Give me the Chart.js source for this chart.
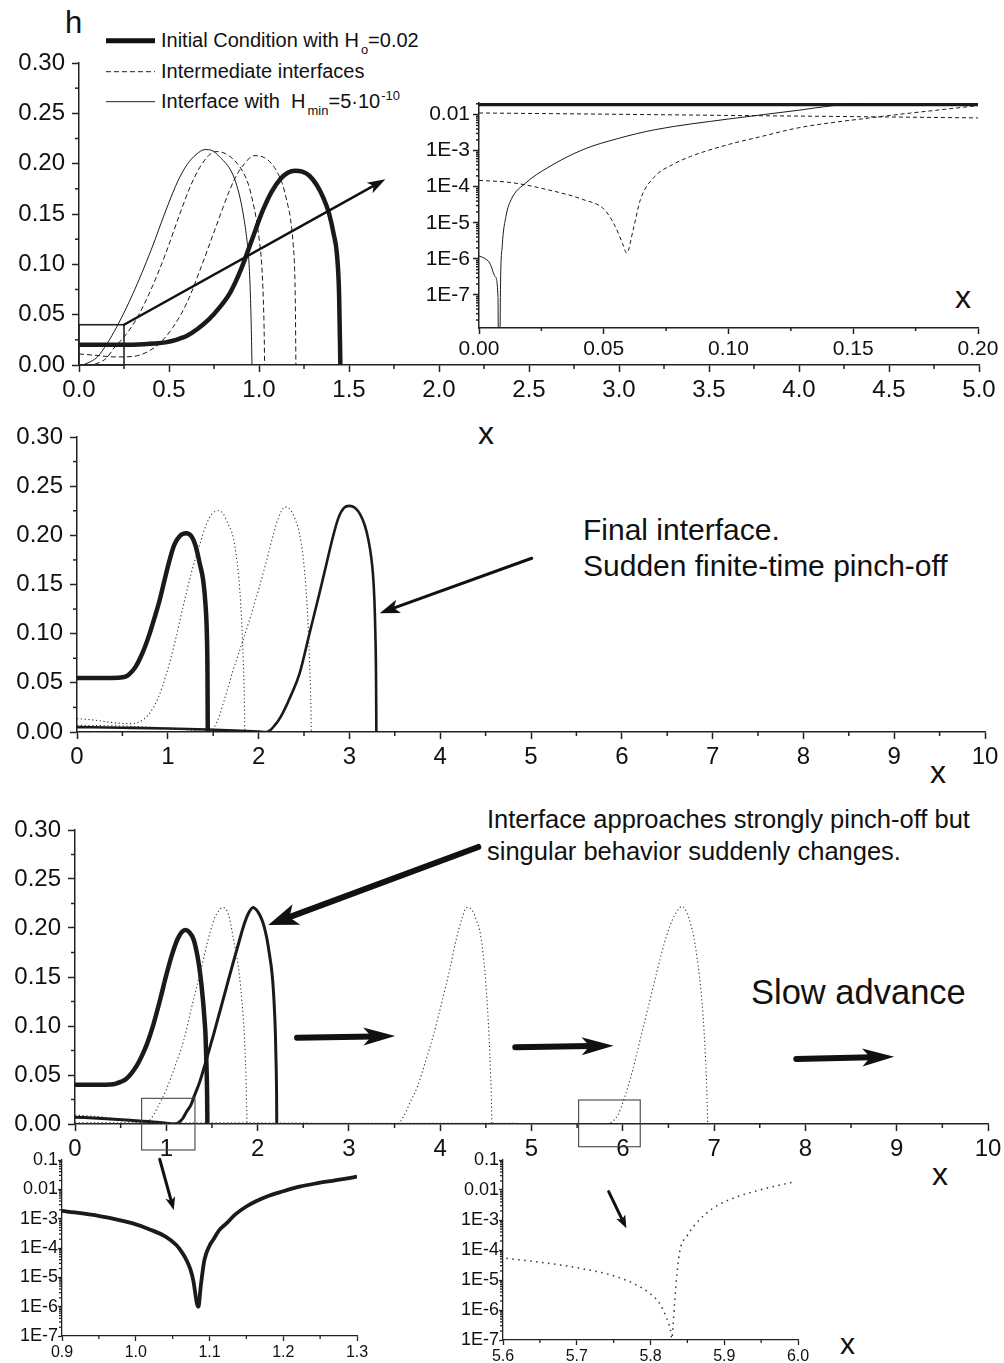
<!DOCTYPE html>
<html>
<head>
<meta charset="utf-8">
<script src="https://cdn.jsdelivr.net/npm/chart.js@4.4.1/dist/chart.umd.min.js"></script>
<style>
  html, body { margin: 0; padding: 0; background: #fff; overflow: hidden; }
  body { width: 1004px; height: 1363px; position: relative;
         font-family: 'Liberation Sans', Arial, Helvetica, sans-serif; color: #111; }
  canvas { position: absolute; }
  .t { position: absolute; white-space: nowrap; line-height: 1; }
  .sub { font-size: 13px; position: relative; top: 7px; margin-left: 2px; }
  .sup { font-size: 13px; position: relative; top: -8px; margin-left: 1px; }
</style>
</head>
<body>

<!-- legend of the top panel -->
<svg style="position:absolute;left:104px;top:30px" width="54" height="80">
  <line x1="2" y1="10.7" x2="51" y2="10.7" stroke="#111" stroke-width="5"/>
  <line x1="2" y1="41.7" x2="51" y2="41.7" stroke="#222" stroke-width="1" stroke-dasharray="5 3"/>
  <line x1="2" y1="71.7" x2="51" y2="71.7" stroke="#222" stroke-width="1"/>
</svg>
<div class="t" style="left:161px;top:30px;font-size:20px">Initial Condition with H<span class="sub">o</span>=0.02</div>
<div class="t" style="left:161px;top:61px;font-size:20px">Intermediate interfaces</div>
<div class="t" style="left:161px;top:91px;font-size:20px">Interface with&nbsp; H<span class="sub">min</span>=5·10<span class="sup">-10</span></div>

<div class="t" style="left:65px;top:7px;font-size:31px">h</div>
<div class="t" style="left:478px;top:417px;font-size:32px">x</div>
<div class="t" style="left:955px;top:281px;font-size:32px">x</div>
<div class="t" style="left:930px;top:756px;font-size:32px">x</div>
<div class="t" style="left:932px;top:1158px;font-size:32px">x</div>
<div class="t" style="left:840px;top:1329px;font-size:30px">x</div>

<div class="t" style="left:583px;top:515px;font-size:30px">Final interface.</div>
<div class="t" style="left:583px;top:551px;font-size:30px">Sudden finite-time pinch-off</div>
<div class="t" style="left:487px;top:807px;font-size:25.5px">Interface approaches strongly pinch-off but</div>
<div class="t" style="left:487px;top:839px;font-size:25.5px">singular behavior suddenly changes.</div>
<div class="t" style="left:751px;top:975px;font-size:34.5px">Slow advance</div>

<script>
// ---------- top panel, 0 <= x <= 5 ----------
const topInitialX = [0, 0.2, 0.3, 0.36, 0.42, 0.48, 0.54, 0.6, 0.66, 0.72, 0.78, 0.84, 0.9, 0.96, 1.02, 1.07, 1.12, 1.16, 1.2, 1.24, 1.28, 1.32, 1.36, 1.39, 1.415, 1.433, 1.445, 1.452];
const topInitialH = [0.02, 0.02, 0.0202, 0.0206, 0.0213, 0.0225, 0.025, 0.029, 0.036, 0.045, 0.057, 0.072, 0.095, 0.124, 0.153, 0.172, 0.185, 0.191, 0.193, 0.192, 0.188, 0.179, 0.165, 0.15, 0.13, 0.11, 0.07, 0];

const topFilmX = [0, 0.1, 0.2, 0.3, 0.38, 0.45, 0.52, 0.6, 0.68, 0.76, 0.84, 0.88, 0.92, 0.97, 1.03, 1.07, 1.1, 1.13, 1.156, 1.175, 1.19, 1.198, 1.202, 1.205];
const topFilmH = [0.011, 0.0095, 0.008, 0.0085, 0.013, 0.022, 0.037, 0.062, 0.098, 0.137, 0.175, 0.19, 0.2, 0.208, 0.206, 0.2, 0.192, 0.18, 0.162, 0.145, 0.12, 0.095, 0.06, 0];

const topDipX = [0, 0.03, 0.06, 0.1, 0.15, 0.2, 0.26, 0.32, 0.4, 0.48, 0.56, 0.62, 0.67, 0.72, 0.76, 0.8, 0.84, 0.88, 0.91, 0.94, 0.966, 0.985, 1.003, 1.015, 1.024, 1.029, 1.031];
const topDipH = [1.5e-4, 8e-5, 1.5e-6, 1.5e-3, 0.0065, 0.018, 0.03, 0.046, 0.075, 0.11, 0.15, 0.178, 0.196, 0.208, 0.212, 0.211, 0.207, 0.2, 0.192, 0.18, 0.162, 0.145, 0.122, 0.1, 0.065, 0.03, 0];

const topMinX = [0, 0.008, 0.02, 0.05, 0.1, 0.155, 0.21, 0.3, 0.4, 0.49, 0.55, 0.6, 0.65, 0.70, 0.74, 0.78, 0.841, 0.87, 0.896, 0.915, 0.933, 0.945, 0.953, 0.958, 0.961];
const topMinH = [1e-6, 0, 1.5e-4, 2.2e-3, 0.0076, 0.021, 0.038, 0.071, 0.114, 0.157, 0.183, 0.199, 0.209, 0.214, 0.213, 0.207, 0.194, 0.182, 0.165, 0.147, 0.124, 0.1, 0.065, 0.03, 0];

// ---------- log inset of the top panel, 0 <= x <= 0.2 ----------
const insetInitialX = [0, 0.2];
const insetInitialH = [0.02, 0.02];
const insetFilmX = [0, 0.05, 0.1, 0.15, 0.2];
const insetFilmH = [0.0111, 0.0103, 0.0095, 0.0088, 0.0081];
const insetDipX = [0, 0.0129, 0.0273, 0.0417, 0.0503, 0.0546, 0.0575, 0.0592, 0.0618, 0.0647, 0.0704, 0.0776, 0.0848, 0.1003, 0.1135, 0.128, 0.1566, 0.2];
const insetDipH = [1.5e-4, 1.3e-4, 8.3e-5, 4.4e-5, 2.3e-5, 7.9e-6, 2.7e-6, 1.45e-6, 6.4e-6, 4.4e-5, 1.9e-4, 4.1e-4, 6.9e-4, 1.5e-3, 2.5e-3, 4.3e-3, 8.1e-3, 0.0178];
const insetMinX = [0, 0.002, 0.0043, 0.0065, 0.0076, 0.008, 0.0086, 0.0093, 0.0108, 0.0129, 0.0187, 0.0273, 0.0417, 0.056, 0.0704, 0.1003, 0.128, 0.142, 0.2];
const insetMinH = [1.2e-6, 1.05e-6, 7.6e-7, 3.2e-7, 9e-8, 1e-12, 1.4e-7, 2.2e-6, 1.5e-5, 4.4e-5, 1.26e-4, 3.3e-4, 1.07e-3, 2.2e-3, 3.8e-3, 7.6e-3, 0.0132, 0.0178, 0.035];

// ---------- middle panel, 0 <= x <= 10 ----------
const midInitialX = [0, 0.3, 0.45, 0.5, 0.55, 0.6, 0.65, 0.7, 0.75, 0.8, 0.86, 0.91, 0.96, 1.02, 1.07, 1.13, 1.2, 1.26, 1.31, 1.35, 1.39, 1.415, 1.43, 1.437, 1.44];
const midInitialH = [0.055, 0.055, 0.0552, 0.0556, 0.057, 0.061, 0.067, 0.076, 0.087, 0.1, 0.118, 0.134, 0.153, 0.175, 0.19, 0.199, 0.202, 0.199, 0.188, 0.172, 0.154, 0.13, 0.1, 0.06, 0];
const midDot1X = [0, 0.2, 0.4, 0.6, 0.7, 0.8, 0.9, 0.985, 1.08, 1.17, 1.26, 1.35, 1.42, 1.48, 1.55, 1.61, 1.66, 1.72, 1.76, 1.79, 1.815, 1.832, 1.843, 1.848];
const midDot1H = [0.0136, 0.012, 0.0095, 0.0085, 0.011, 0.019, 0.036, 0.059, 0.092, 0.128, 0.162, 0.19, 0.21, 0.221, 0.225, 0.222, 0.212, 0.198, 0.175, 0.148, 0.11, 0.07, 0.035, 0];
const midDot2X = [0, 0.5, 1.0, 1.3, 1.46, 1.55, 1.63, 1.72, 1.81, 1.9, 2.0, 2.09, 2.16, 2.22, 2.29, 2.35, 2.4, 2.45, 2.49, 2.52, 2.545, 2.562, 2.574, 2.58];
const midDot2H = [0.0068, 0.006, 0.004, 0.0015, 0, 0.012, 0.035, 0.063, 0.088, 0.114, 0.145, 0.175, 0.2, 0.218, 0.229, 0.226, 0.217, 0.202, 0.178, 0.148, 0.11, 0.07, 0.035, 0];
const midFinalX = [0, 0.5, 1.0, 1.44, 1.8, 2.0, 2.086, 2.13, 2.17, 2.22, 2.27, 2.36, 2.45, 2.56, 2.67, 2.75, 2.82, 2.88, 2.94, 3.0, 3.06, 3.12, 3.17, 3.21, 3.24, 3.26, 3.275, 3.286, 3.293, 3.297];
const midFinalH = [0.005, 0.0043, 0.0035, 0.0025, 0.0012, 0.0004, 0, 0.002, 0.006, 0.012, 0.02, 0.038, 0.059, 0.1, 0.141, 0.172, 0.199, 0.218, 0.228, 0.23, 0.228, 0.221, 0.21, 0.195, 0.178, 0.16, 0.135, 0.1, 0.06, 0];

// ---------- bottom panel, 0 <= x <= 10 ----------
const botInitialX = [0, 0.3, 0.38, 0.44, 0.5, 0.56, 0.62, 0.68, 0.74, 0.79, 0.86, 0.93, 1.0, 1.06, 1.12, 1.17, 1.21, 1.25, 1.3, 1.34, 1.37, 1.4, 1.42, 1.43, 1.44, 1.447, 1.45];
const botInitialH = [0.04, 0.04, 0.0403, 0.041, 0.043, 0.046, 0.052, 0.06, 0.071, 0.082, 0.102, 0.126, 0.152, 0.172, 0.188, 0.196, 0.198, 0.196, 0.188, 0.172, 0.154, 0.128, 0.105, 0.09, 0.06, 0.03, 0];
const botApproachX = [0, 0.3, 0.6, 0.9, 1.0, 1.05, 1.085, 1.1, 1.12, 1.15, 1.18, 1.22, 1.27, 1.3, 1.37, 1.44, 1.52, 1.59, 1.66, 1.73, 1.8, 1.85, 1.9, 1.95, 2.0, 2.04, 2.07, 2.1, 2.13, 2.16, 2.18, 2.195, 2.203, 2.208, 2.21];
const botApproachH = [0.007, 0.0055, 0.0038, 0.0018, 0.0007, 0.00025, 0, 0.0002, 0.0007, 0.0026, 0.0056, 0.0123, 0.0196, 0.027, 0.044, 0.066, 0.092, 0.116, 0.14, 0.164, 0.187, 0.203, 0.215, 0.221, 0.217, 0.21, 0.202, 0.19, 0.173, 0.152, 0.125, 0.092, 0.06, 0.03, 0];
const botDot1X = [0, 0.2, 0.4, 0.6, 0.75, 0.82, 0.9, 1.0, 1.1, 1.19, 1.28, 1.37, 1.45, 1.52, 1.57, 1.62, 1.68, 1.737, 1.79, 1.828, 1.855, 1.872, 1.884];
const botDot1H = [0.009, 0.008, 0.006, 0.003, 0.001, 0.004, 0.016, 0.035, 0.06, 0.085, 0.12, 0.154, 0.185, 0.208, 0.217, 0.221, 0.214, 0.188, 0.16, 0.126, 0.09, 0.05, 0];
const botDot2X = [0, 1, 2, 3, 3.53, 3.6, 3.67, 3.75, 3.84, 3.93, 4.02, 4.11, 4.18, 4.24, 4.29, 4.35, 4.4, 4.44, 4.48, 4.51, 4.535, 4.552, 4.562, 4.565];
const botDot2H = [0.0009, 0.0008, 0.0006, 0.0004, 0, 0.008, 0.022, 0.038, 0.064, 0.092, 0.125, 0.16, 0.19, 0.21, 0.221, 0.218, 0.207, 0.194, 0.165, 0.13, 0.09, 0.05, 0.02, 0];
const botDot3X = [0, 1, 2, 3, 4, 5.06, 5.6, 5.7, 5.8, 5.83, 5.885, 5.95, 6.01, 6.1, 6.19, 6.28, 6.37, 6.45, 6.52, 6.58, 6.65, 6.7, 6.74, 6.775, 6.81, 6.84, 6.868, 6.89, 6.907, 6.92, 6.93];
const botDot3H = [0.001, 0.001, 0.0009, 0.0008, 0.0007, 0.0005, 5e-5, 2.6e-5, 3e-6, 1e-7, 2.5e-3, 0.01, 0.0245, 0.052, 0.086, 0.12, 0.154, 0.183, 0.203, 0.215, 0.222, 0.216, 0.205, 0.192, 0.172, 0.15, 0.124, 0.095, 0.065, 0.035, 0];

// ---------- log close-ups under the bottom panel ----------
const zoomAX = [0.9, 0.951, 0.996, 1.019, 1.041, 1.055, 1.062, 1.069, 1.074, 1.078, 1.083, 1.085, 1.088, 1.093, 1.1, 1.105, 1.113, 1.123, 1.135, 1.15, 1.163, 1.177, 1.2, 1.222, 1.245, 1.267, 1.285, 1.3];
const zoomAH = [1.86e-3, 1.23e-3, 6.9e-4, 4.3e-4, 2.4e-4, 1.26e-4, 7.5e-5, 3.8e-5, 1.9e-5, 7.9e-6, 1.26e-6, 1.0e-6, 4.7e-6, 3.8e-5, 1.2e-4, 1.9e-4, 4e-4, 6.9e-4, 1.4e-3, 2.6e-3, 3.9e-3, 5.6e-3, 8.6e-3, 0.0123, 0.016, 0.0196, 0.023, 0.027];
const zoomBX = [5.6045, 5.654, 5.699, 5.745, 5.776, 5.799, 5.812, 5.821, 5.827, 5.829, 5.8305, 5.833, 5.836, 5.84, 5.849, 5.862, 5.885, 5.912, 5.948, 5.996];
const zoomBH = [5.3e-5, 3.8e-5, 2.6e-5, 1.5e-5, 7.8e-6, 3.6e-6, 1.7e-6, 6e-7, 2.2e-7, 1.1e-7, 2.8e-7, 2.2e-6, 1.7e-5, 1e-4, 2.8e-4, 7.8e-4, 2.5e-3, 5.3e-3, 0.01, 0.019];

// ---------- tick values ----------
const hTicks = [0, 0.05, 0.10, 0.15, 0.20, 0.25, 0.30];
const topXTicks = [0, 0.5, 1.0, 1.5, 2.0, 2.5, 3.0, 3.5, 4.0, 4.5, 5.0];
const wideXTicks = [0, 1, 2, 3, 4, 5, 6, 7, 8, 9, 10];
const insetXTicks = [0, 0.05, 0.10, 0.15, 0.20];
const insetLogTicks = [1e-7, 1e-6, 1e-5, 1e-4, 1e-3, 1e-2];
const zoomLogTicks = [1e-7, 1e-6, 1e-5, 1e-4, 1e-3, 1e-2, 1e-1];
const zoomAXTicks = [0.9, 1.0, 1.1, 1.2, 1.3];
const zoomBXTicks = [5.6, 5.7, 5.8, 5.9, 6.0];

// ---------- helpers ----------
const FONT = "'Liberation Sans', Arial, Helvetica, sans-serif";
const INK = '#1a1a1a';

function pts(xs, hs) { return xs.map((x, i) => ({ x: x, y: hs[i] })); }
function curve(xs, hs, style) {
  return Object.assign({ data: pts(xs, hs), borderColor: INK, borderWidth: 1, pointRadius: 0,
    fill: false, cubicInterpolationMode: 'monotone' }, style);
}
const THICK = { borderWidth: 4.5 };
const MEDIUM = { borderWidth: 2.6 };
const THIN = { borderWidth: 1 };
const DASH = { borderWidth: 1, borderDash: [5, 3] };
const DOT = { borderWidth: 1.1, borderDash: [1.2, 2.6], borderColor: '#333' };

const fix = n => v => Number(v).toFixed(n);
const logLabel = v => v >= 0.01 ? String(+v.toPrecision(1)) : '1E' + Math.round(Math.log10(v));

function linearMinor(min, max, step, major) {
  const out = [];
  for (let i = 0; ; i++) {
    const v = +(min + i * step).toFixed(6);
    if (v > max + 1e-9) break;
    if (!major.some(m => Math.abs(m - v) < 1e-9)) out.push(v);
  }
  return out;
}
function logMinor(min, max) {
  const out = [];
  for (let d = Math.floor(Math.log10(min)); d <= Math.ceil(Math.log10(max)); d++) {
    for (let k = 2; k <= 9; k++) {
      const v = k * Math.pow(10, d);
      if (v >= min && v <= max) out.push(v);
    }
  }
  return out;
}

function arrow(ctx, x1, y1, x2, y2, lw, hl, hw) {
  const a = Math.atan2(y2 - y1, x2 - x1);
  const c = Math.cos(a), s = Math.sin(a);
  const bx = x2 - hl * c, by = y2 - hl * s;
  ctx.beginPath();
  ctx.moveTo(x1, y1);
  ctx.lineTo(bx + 0.3 * hl * c, by + 0.3 * hl * s);
  ctx.lineWidth = lw; ctx.lineCap = 'round'; ctx.stroke();
  ctx.beginPath();
  ctx.moveTo(x2, y2);
  ctx.lineTo(bx - hw * s, by + hw * c);
  ctx.lineTo(bx + 0.25 * hl * c, by + 0.25 * hl * s);
  ctx.lineTo(bx + hw * s, by - hw * c);
  ctx.closePath(); ctx.fill();
}

// One plot = one canvas whose chart area lands on the page box `area`.
// The top/right margins are wide enough that the tick labels never push the area.
const PT = 26, PR = 32;
function panel(area, o) {
  const W = o.W, H = o.H;
  const cw = area.r - area.l + W + PR, ch = area.b - area.t + PT + H;
  const cv = document.createElement('canvas');
  cv.width = cw; cv.height = ch;
  cv.style.left = (area.l - W) + 'px'; cv.style.top = (area.t - PT) + 'px';
  cv.style.width = cw + 'px'; cv.style.height = ch + 'px';
  document.body.appendChild(cv);

  const axis = (a, horiz) => ({
    type: a.type || 'linear', min: a.min, max: a.max, position: horiz ? 'bottom' : 'left',
    afterBuildTicks: s => { s.ticks = a.ticks.map(v => ({ value: v })); },
    afterFit: s => { if (horiz) s.height = H; else s.width = W; },
    ticks: { callback: v => a.fmt(v), font: { family: FONT, size: a.size }, color: '#111',
             padding: a.pad, autoSkip: false, maxRotation: 0, minRotation: 0 },
    grid: { drawOnChartArea: false, drawTicks: true, tickLength: a.tl || o.tl, tickWidth: o.lw, tickColor: '#222' },
    border: { display: true, color: '#222', width: o.lw }
  });

  const decor = {
    id: 'decor',
    afterDraw(chart) {
      const ctx = chart.ctx, xs = chart.scales.x, ys = chart.scales.y;
      ctx.save();
      ctx.strokeStyle = '#222'; ctx.lineWidth = o.lw;
      (o.xMinor || []).forEach(v => {
        const p = xs.getPixelForValue(v);
        ctx.beginPath(); ctx.moveTo(p, xs.top); ctx.lineTo(p, xs.top + o.mtl); ctx.stroke();
      });
      (o.yMinor || []).forEach(v => {
        const p = ys.getPixelForValue(v);
        ctx.beginPath(); ctx.moveTo(ys.right, p); ctx.lineTo(ys.right - o.mtl, p); ctx.stroke();
      });
      (o.boxes || []).forEach(b => {
        const x0 = xs.getPixelForValue(b.x0), x1 = xs.getPixelForValue(b.x1);
        const y0 = ys.getPixelForValue(b.y0), y1 = ys.getPixelForValue(b.y1);
        ctx.strokeStyle = b.color || '#222'; ctx.lineWidth = b.lw;
        ctx.strokeRect(x0, y1, x1 - x0, y0 - y1);
      });
      ctx.strokeStyle = '#111'; ctx.fillStyle = '#111';
      (o.arrows || []).forEach(r => {
        arrow(ctx, xs.getPixelForValue(r.x1), ys.getPixelForValue(r.y1),
                   xs.getPixelForValue(r.x2), ys.getPixelForValue(r.y2), r.lw, r.hl, r.hw);
      });
      ctx.restore();
    }
  };

  return new Chart(cv, {
    type: 'line',
    data: { datasets: o.datasets },
    options: {
      responsive: false, animation: false, events: [], devicePixelRatio: 1,
      layout: { padding: { top: PT, right: PR, left: 0, bottom: 0 } },
      plugins: { legend: { display: false }, tooltip: { enabled: false } },
      scales: { x: axis(o.x, true), y: axis(o.y, false) }
    },
    plugins: [decor]
  });
}

// ---------- top panel ----------
panel({ l: 79, t: 63, r: 979, b: 365 }, {
  W: 75, H: 42, lw: 1.5, tl: 7, mtl: 4,
  x: { min: 0, max: 5, ticks: topXTicks, fmt: fix(1), size: 24, pad: 4 },
  y: { min: 0, max: 0.3, ticks: hTicks, fmt: fix(2), size: 24, pad: 7 },
  xMinor: linearMinor(0, 5, 0.25, topXTicks),
  yMinor: linearMinor(0, 0.3, 0.025, hTicks),
  datasets: [
    curve(topFilmX, topFilmH, DASH),
    curve(topDipX, topDipH, DASH),
    curve(topMinX, topMinH, THIN),
    curve(topInitialX, topInitialH, THICK)
  ],
  boxes: [{ x0: 0, x1: 0.25, y0: 0, y1: 0.04, lw: 1.6 }],
  arrows: [{ x1: 0.25, y1: 0.04, x2: 1.702, y2: 0.1845, lw: 2.5, hl: 18, hw: 6 }]
});

// ---------- log inset of the top panel ----------
panel({ l: 479, t: 103, r: 978, b: 328 }, {
  W: 70, H: 34, lw: 1.5, tl: 6, mtl: 3,
  x: { min: 0, max: 0.2, ticks: insetXTicks, fmt: fix(2), size: 21, pad: 3 },
  y: { type: 'logarithmic', min: 1.2e-8, max: 0.021, ticks: insetLogTicks, fmt: logLabel, size: 21, pad: 3 },
  xMinor: linearMinor(0, 0.2, 0.025, insetXTicks),
  yMinor: logMinor(1.2e-8, 0.021),
  datasets: [
    curve(insetFilmX, insetFilmH, { borderWidth: 1, borderDash: [4, 3] }),
    curve(insetDipX, insetDipH, { borderWidth: 1, borderDash: [4, 3] }),
    curve(insetMinX, insetMinH, THIN),
    curve(insetInitialX, insetInitialH, { borderWidth: 5 })
  ]
});

// ---------- middle panel ----------
panel({ l: 77, t: 437, r: 985, b: 732 }, {
  W: 75, H: 42, lw: 1.5, tl: 7, mtl: 4,
  x: { min: 0, max: 10, ticks: wideXTicks, fmt: fix(0), size: 24, pad: 4 },
  y: { min: 0, max: 0.3, ticks: hTicks, fmt: fix(2), size: 24, pad: 7 },
  xMinor: linearMinor(0, 10, 0.5, wideXTicks),
  yMinor: linearMinor(0, 0.3, 0.025, hTicks),
  datasets: [
    curve(midDot1X, midDot1H, DOT),
    curve(midDot2X, midDot2H, DOT),
    curve(midFinalX, midFinalH, MEDIUM),
    curve(midInitialX, midInitialH, THICK)
  ],
  arrows: [{ x1: 5.008, y1: 0.1767, x2: 3.334, y2: 0.1208, lw: 3, hl: 20, hw: 7 }]
});

// ---------- bottom panel ----------
panel({ l: 75, t: 830, r: 988, b: 1124 }, {
  W: 75, H: 42, lw: 1.5, tl: 7, mtl: 4,
  x: { min: 0, max: 10, ticks: wideXTicks, fmt: fix(0), size: 24, pad: 4 },
  y: { min: 0, max: 0.3, ticks: hTicks, fmt: fix(2), size: 24, pad: 7 },
  xMinor: linearMinor(0, 10, 0.5, wideXTicks),
  yMinor: linearMinor(0, 0.3, 0.025, hTicks),
  datasets: [
    curve(botDot1X, botDot1H, DOT),
    curve(botDot2X, botDot2H, DOT),
    curve(botDot3X, botDot3H, DOT),
    curve(botApproachX, botApproachH, { borderWidth: 3 }),
    curve(botInitialX, botInitialH, THICK)
  ],
  boxes: [
    { x0: 0.73, x1: 1.314, y0: -0.0265, y1: 0.0262, lw: 1.1, color: '#444' },
    { x0: 5.516, x1: 6.191, y0: -0.0232, y1: 0.0245, lw: 1.1, color: '#444' }
  ],
  arrows: [
    { x1: 4.417, y1: 0.2827, x2: 2.117, y2: 0.2031, lw: 6, hl: 30, hw: 11 },
    { x1: 2.432, y1: 0.0881, x2: 3.508, y2: 0.0898, lw: 6, hl: 32, hw: 9 },
    { x1: 4.822, y1: 0.0783, x2: 5.899, y2: 0.0799, lw: 6, hl: 32, hw: 9 },
    { x1: 7.9, y1: 0.0663, x2: 8.973, y2: 0.0687, lw: 6, hl: 32, hw: 9 }
  ]
});

// ---------- close-up near x = 1.08 ----------
panel({ l: 62, t: 1160, r: 357, b: 1336 }, {
  W: 62, H: 27, lw: 1.3, tl: 5, mtl: 3,
  x: { min: 0.9, max: 1.3, ticks: zoomAXTicks, fmt: fix(1), size: 16, pad: 2 },
  y: { type: 'logarithmic', min: 1e-7, max: 0.1, ticks: zoomLogTicks, fmt: logLabel, size: 18, pad: 0, tl: 4 },
  xMinor: linearMinor(0.9, 1.3, 0.05, zoomAXTicks),
  yMinor: logMinor(1e-7, 0.1),
  datasets: [curve(zoomAX, zoomAH, { borderWidth: 3.8 })],
  arrows: [{ x1: 1.0325, y1: 0.106, x2: 1.0515, y2: 1.97e-3, lw: 3, hl: 13, hw: 5 }]
});

// ---------- close-up near x = 5.83 ----------
panel({ l: 503, t: 1160, r: 798, b: 1340 }, {
  W: 62, H: 23, lw: 1.3, tl: 5, mtl: 3,
  x: { min: 5.6, max: 6.0, ticks: zoomBXTicks, fmt: fix(1), size: 16, pad: 2 },
  y: { type: 'logarithmic', min: 1e-7, max: 0.1, ticks: zoomLogTicks, fmt: logLabel, size: 18, pad: 0, tl: 4 },
  xMinor: linearMinor(5.6, 6.0, 0.05, zoomBXTicks),
  yMinor: logMinor(1e-7, 0.1),
  datasets: [curve(zoomBX, zoomBH, { borderWidth: 1.5, borderDash: [1.5, 4.5], borderColor: '#333' })],
  arrows: [{ x1: 5.7433, y1: 8.8e-3, x2: 5.7673, y2: 5.3e-4, lw: 3, hl: 13, hw: 5 }]
});
</script>
</body>
</html>
